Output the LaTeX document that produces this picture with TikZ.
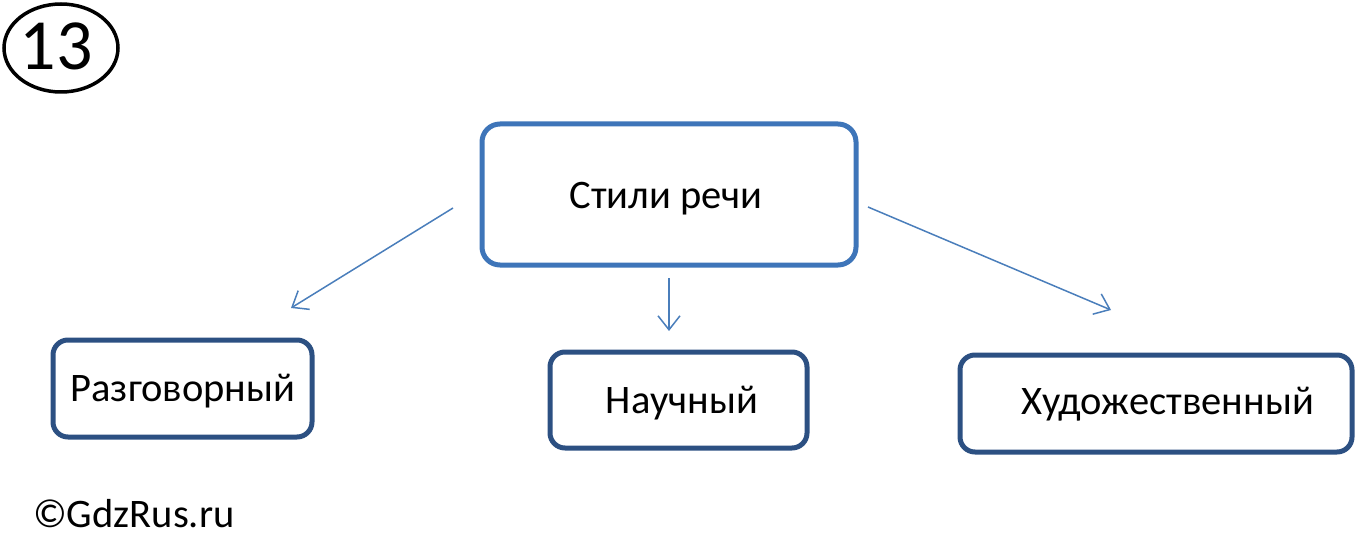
\documentclass[tikz,border=0pt]{standalone}
\usepackage{fontspec}
\setmainfont{Carlito}
\usetikzlibrary{arrows.meta,shapes.geometric}
\definecolor{topblue}{RGB}{62,117,185}
\definecolor{boxblue}{RGB}{44,80,130}
\definecolor{arrblue}{RGB}{74,126,187}
\tikzset{
  mainbox/.style={draw=topblue, line width=5pt, rounded corners=18pt, inner sep=0pt},
  subbox/.style={draw=boxblue, line width=5pt, rounded corners=15pt, inner sep=0pt},
  conn/.style={draw=arrblue, line width=1.5pt, -{Straight Barb[length=14pt,width=22pt,line width=1.5pt]}},
  lbl/.style={inner sep=0pt, font=\fontsize{40.5}{44}\selectfont}
}
\begin{document}
\begin{tikzpicture}[x=1pt,y=-1pt]
\useasboundingbox (0,0) rectangle (1356,537);
% number
\node[draw=black, line width=3.5pt, ellipse, minimum width=114pt, minimum height=88pt, inner sep=0pt] (num) at (61,48) {};
\node[inner sep=0pt, font=\fontsize{72}{74}\selectfont] (numtxt) at (56,46) {13};
% boxes
\node[mainbox, minimum width=374pt, minimum height=141pt] (top) at (669,194.5) {};
\node[lbl] (toptxt) at (666,199) {Стили речи};
\node[subbox, minimum width=259pt, minimum height=97pt] (left) at (182.5,388.5) {};
\node[lbl] (lefttxt) at (183,391) {Разговорный};
\node[subbox, minimum width=257pt, minimum height=96pt] (mid) at (678.5,400) {};
\node[lbl] (midtxt) at (682,403) {Научный};
\node[subbox, minimum width=392pt, minimum height=97pt] (right) at (1156,403.5) {};
\node[lbl] (righttxt) at (1168,404) {Художественный};
% connectors
\coordinate (a1s) at (453,208);
\coordinate (a1e) at (291,308);
\coordinate (a2s) at (669,278);
\coordinate (a2e) at (669,331);
\coordinate (a3s) at (868,207);
\coordinate (a3e) at (1111,310);
\draw[conn] (a1s) -- (a1e);
\draw[conn] (a2s) -- (a2e);
\draw[conn] (a3s) -- (a3e);
% copyright
\node[lbl, anchor=base west] (copy) at (33,527) {©GdzRus.ru};
\end{tikzpicture}
\end{document}
